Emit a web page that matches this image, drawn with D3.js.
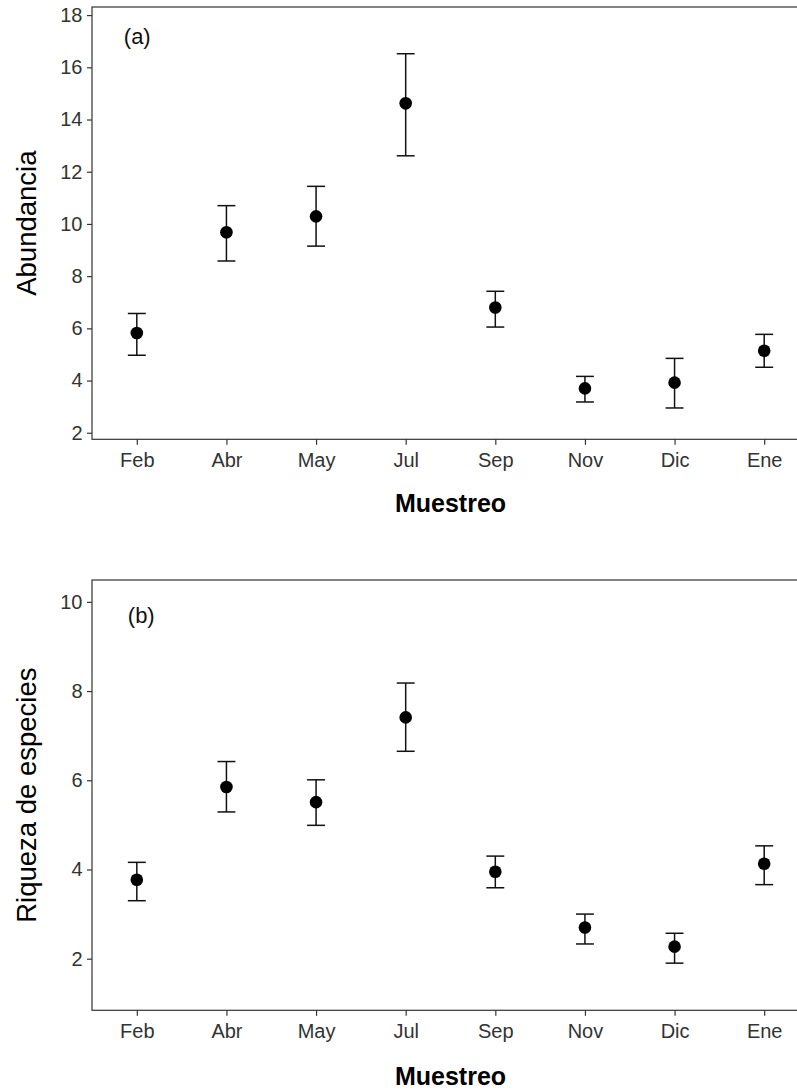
<!DOCTYPE html>
<html>
<head>
<meta charset="utf-8">
<script src="https://cdn.jsdelivr.net/npm/d3@7"></script>
<style>
  html, body { margin: 0; padding: 0; background: #fff; }
  svg { display: block; font-family: "Liberation Sans", Arial, sans-serif; }
</style>
</head>
<body>
<svg id="chart" width="797" height="1091"></svg>
<script>
// ---- data ----
const months = ["Feb", "Abr", "May", "Jul", "Sep", "Nov", "Dic", "Ene"];

const abundMean  = [5.82, 9.68, 10.29, 14.62, 6.80, 3.70, 3.92, 5.14];
const abundUpper = [6.57, 10.70, 11.44, 16.52, 7.42, 4.16, 4.85, 5.77];
const abundLower = [4.97, 8.58, 9.15, 12.61, 6.05, 3.18, 2.95, 4.51];

const richMean  = [3.77, 5.85, 5.51, 7.41, 3.95, 2.70, 2.27, 4.13];
const richUpper = [4.16, 6.42, 6.01, 8.18, 4.30, 3.00, 2.57, 4.53];
const richLower = [3.30, 5.29, 4.99, 6.65, 3.59, 2.33, 1.90, 3.66];

const abundTicks = [2, 4, 6, 8, 10, 12, 14, 16, 18];
const richTicks  = [2, 4, 6, 8, 10];

const svg = d3.select("#chart");
const FONT = "'Liberation Sans', Arial, sans-serif";

function panel(opts) {
  const { top, bottom, left, right, yDomain, ticks, mean, upper, lower,
          yTitle, xTitleY, tag, tagDx, tagY } = opts;
  const g = svg.append("g");

  const x = d3.scalePoint().domain(months).range([left, right]).padding(0.5);
  const y = d3.scaleLinear().domain(yDomain).range([bottom, top]);
  const step = x.step();
  const capHalf = step * 0.1;

  // panel border (right side falls outside the picture)
  g.append("rect")
    .attr("x", left).attr("y", top)
    .attr("width", right - left).attr("height", bottom - top)
    .attr("fill", "none").attr("stroke", "#333").attr("stroke-width", 1.2);

  // y axis
  const ya = g.append("g").attr("transform", `translate(${left},0)`)
    .call(d3.axisLeft(y).tickValues(ticks).tickSize(5).tickPadding(4.5));
  ya.select(".domain").remove();
  ya.selectAll(".tick line").attr("stroke", "#333").attr("stroke-width", 1.2);
  ya.selectAll(".tick text").attr("fill", "#333")
    .style("font-size", "20px").style("font-family", FONT);

  // x axis
  const xa = g.append("g").attr("transform", `translate(0,${bottom})`)
    .call(d3.axisBottom(x).tickSize(5.5).tickPadding(8));
  xa.select(".domain").remove();
  xa.selectAll(".tick line").attr("stroke", "#333").attr("stroke-width", 1.2);
  xa.selectAll(".tick text").attr("fill", "#333")
    .style("font-size", "20px").style("font-family", FONT);

  const data = months.map((m, i) => ({ m, mean: mean[i], up: upper[i], lo: lower[i] }));

  // error bars
  const eb = g.append("g").attr("stroke", "#111").attr("stroke-width", 1.5);
  eb.selectAll("line.v").data(data).join("line").attr("class", "v")
    .attr("x1", d => x(d.m)).attr("x2", d => x(d.m))
    .attr("y1", d => y(d.up)).attr("y2", d => y(d.lo));
  eb.selectAll("line.cu").data(data).join("line").attr("class", "cu")
    .attr("x1", d => x(d.m) - capHalf).attr("x2", d => x(d.m) + capHalf)
    .attr("y1", d => y(d.up)).attr("y2", d => y(d.up));
  eb.selectAll("line.cl").data(data).join("line").attr("class", "cl")
    .attr("x1", d => x(d.m) - capHalf).attr("x2", d => x(d.m) + capHalf)
    .attr("y1", d => y(d.lo)).attr("y2", d => y(d.lo));

  // points
  g.selectAll("circle").data(data).join("circle")
    .attr("cx", d => x(d.m)).attr("cy", d => y(d.mean)).attr("r", 6.3)
    .attr("fill", "#000");

  // tag
  g.append("text")
    .attr("x", x("Feb") + tagDx)
    .attr("y", tagY)
    .attr("font-size", 22).attr("fill", "#111")
    .style("font-family", FONT)
    .text(tag);

  // titles
  g.append("text")
    .attr("transform", `translate(35.5,${(top + bottom) / 2}) rotate(-90)`)
    .attr("text-anchor", "middle").attr("font-size", 27.5).attr("fill", "#000")
    .style("font-family", FONT)
    .text(yTitle);
  g.append("text")
    .attr("x", (left + right) / 2).attr("y", xTitleY)
    .attr("text-anchor", "middle").attr("font-size", 25)
    .attr("font-weight", "bold").attr("fill", "#000")
    .style("font-family", FONT)
    .text("Muestreo");
}

panel({
  top: 7, bottom: 439.3, left: 92, right: 809,
  yDomain: [1.75, 18.31], ticks: abundTicks,
  mean: abundMean, upper: abundUpper, lower: abundLower,
  yTitle: "Abundancia", xTitleY: 511.5, tag: "(a)", tagDx: -13, tagY: 44
});

panel({
  top: 580, bottom: 1010.3, left: 92, right: 809,
  yDomain: [0.843, 10.49], ticks: richTicks,
  mean: richMean, upper: richUpper, lower: richLower,
  yTitle: "Riqueza de especies", xTitleY: 1085, tag: "(b)", tagDx: -9, tagY: 623
});
</script>
</body>
</html>
